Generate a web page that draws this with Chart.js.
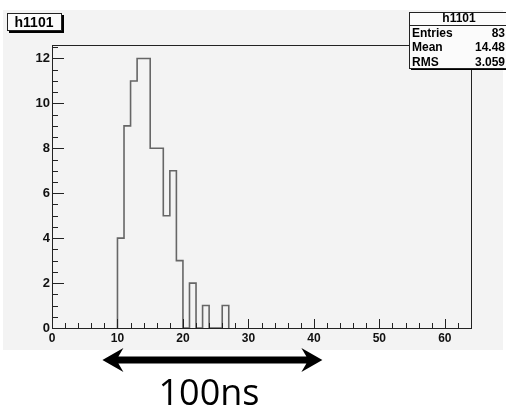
<!DOCTYPE html>
<html>
<head>
<meta charset="utf-8">
<script src="https://cdn.jsdelivr.net/npm/chart.js@4.4.1/dist/chart.umd.min.js"></script>
<style>
  html, body { margin: 0; padding: 0; background: #ffffff; }
  #wrap { width: 506px; height: 408px; }
</style>
</head>
<body>
<div id="wrap"><canvas id="histo" width="506" height="408"></canvas></div>
<script>
// histogram h1101, unit-wide bins starting at firstBin
const firstBin = 10;
const binCounts = [4, 9, 11, 12, 12, 8, 8, 5, 7, 3, 0, 2, 0, 1, 0, 0, 1];
const xRange = [0, 64];
const yRange = [0, 12.6];
const histName = "h1101";
const statLabels = ["Entries", "Mean", "RMS"];
const statValues = ["83", "14.48", "3.059"];
const arrowSpan = [7.7, 41.3];
const arrowLabel = "100ns";

// step outline points: (lowEdge, count), closed back down to 0
const points = [{ x: firstBin, y: 0 }];
binCounts.forEach((c, i) => points.push({ x: firstBin + i, y: c }));
points.push({ x: firstBin + binCounts.length, y: 0 });

const fontFam = "'Liberation Sans', Arial, sans-serif";

const rootFrame = {
    id: "rootFrame",
    beforeDraw(chart) {
        const ctx = chart.ctx;
        ctx.save();
        ctx.fillStyle = "#f3f3f3";
        ctx.fillRect(3, 10, 500, 340);
        ctx.restore();
    },
    afterDraw(chart) {
        const ctx = chart.ctx;
        const a = chart.chartArea;
        const xs = chart.scales.x, ys = chart.scales.y;
        ctx.save();

        // frame
        ctx.strokeStyle = "#222";
        ctx.lineWidth = 1;
        ctx.strokeRect(a.left + 0.5, a.top + 0.5, a.right - a.left, a.bottom - a.top);

        // x ticks (inside, pointing up)
        ctx.beginPath();
        for (let v = 0; v <= xRange[1]; v += 2) {
            const px = Math.round(xs.getPixelForValue(v)) + 0.5;
            const len = v % 10 === 0 ? 9 : 5;
            ctx.moveTo(px, a.bottom);
            ctx.lineTo(px, a.bottom - len);
        }
        // y ticks (inside, pointing right)
        for (let v = 0; v <= yRange[1]; v += 0.5) {
            const py = Math.round(ys.getPixelForValue(v)) + 0.5;
            const len = v % 2 === 0 ? 12 : 6;
            ctx.moveTo(a.left, py);
            ctx.lineTo(a.left + len, py);
        }
        ctx.stroke();

        // title box
        ctx.fillStyle = "#000";
        ctx.fillRect(9, 15, 55, 18);
        ctx.fillStyle = "#fbfbfb";
        ctx.fillRect(7, 13, 55, 18);
        ctx.strokeRect(7.5, 13.5, 54, 17);
        ctx.fillStyle = "#000";
        ctx.font = "bold 14px " + fontFam;
        ctx.textAlign = "center";
        ctx.textBaseline = "middle";
        ctx.fillText(histName, 34, 23);

        // stats box
        const bx = 409, by = 12, bw = 100, bh = 56;
        ctx.fillStyle = "#000";
        ctx.fillRect(bx + 2, by + 2, bw, bh);
        ctx.fillStyle = "#fbfbfb";
        ctx.fillRect(bx, by, bw, bh);
        ctx.strokeRect(bx + 0.5, by + 0.5, bw, bh);
        ctx.beginPath();
        ctx.moveTo(bx, 25.5);
        ctx.lineTo(bx + bw, 25.5);
        ctx.stroke();
        ctx.fillStyle = "#000";
        ctx.font = "bold 12px " + fontFam;
        ctx.textAlign = "center";
        ctx.fillText(histName, 459, 19);
        statLabels.forEach((lab, i) => {
            const yy = 33.5 + i * 14.5;
            ctx.textAlign = "left";
            ctx.fillText(lab, 412, yy);
            ctx.textAlign = "right";
            ctx.fillText(statValues[i], 505, yy);
        });

        // double arrow under the axis
        const x0 = xs.getPixelForValue(arrowSpan[0]);
        const x1 = xs.getPixelForValue(arrowSpan[1]);
        const ay = 360, head = 21, hw = 12, sh = 3.5;
        ctx.fillStyle = "#000";
        ctx.beginPath();
        ctx.moveTo(x0, ay);
        ctx.lineTo(x0 + head, ay - hw);
        ctx.lineTo(x0 + head - 5, ay - sh);
        ctx.lineTo(x1 - head + 5, ay - sh);
        ctx.lineTo(x1 - head, ay - hw);
        ctx.lineTo(x1, ay);
        ctx.lineTo(x1 - head, ay + hw);
        ctx.lineTo(x1 - head + 5, ay + sh);
        ctx.lineTo(x0 + head - 5, ay + sh);
        ctx.lineTo(x0 + head, ay + hw);
        ctx.closePath();
        ctx.fill();

        ctx.font = "36px 'Open Sans', sans-serif";
        ctx.textAlign = "center";
        ctx.textBaseline = "alphabetic";
        ctx.fillText(arrowLabel, 209, 405);
        ctx.restore();
    }
};

new Chart(document.getElementById("histo"), {
    type: "line",
    data: {
        datasets: [{
            data: points,
            stepped: true,
            borderColor: "#666666",
            borderWidth: 1.6,
            pointRadius: 0,
            fill: false
        }]
    },
    options: {
        responsive: false,
        animation: false,
        events: [],
        layout: { padding: { top: 45, right: 35, bottom: 60, left: 0 } },
        plugins: { legend: { display: false }, tooltip: { enabled: false } },
        scales: {
            x: {
                type: "linear",
                min: xRange[0],
                max: xRange[1],
                grid: { display: false, drawTicks: false },
                border: { display: false },
                ticks: { stepSize: 10, includeBounds: false, padding: 3, color: "#111",
                         font: { family: fontFam, size: 12, weight: "bold" }, maxRotation: 0 },
                afterFit(scale) { scale.height = 20; }
            },
            y: {
                min: yRange[0],
                max: yRange[1],
                grid: { display: false, drawTicks: false },
                border: { display: false },
                ticks: { stepSize: 2, includeBounds: false, padding: 2, color: "#111",
                         font: { family: fontFam, size: 13, weight: "bold" } },
                afterFit(scale) { scale.width = 52; }
            }
        }
    },
    plugins: [rootFrame]
});
</script>
</body>
</html>
